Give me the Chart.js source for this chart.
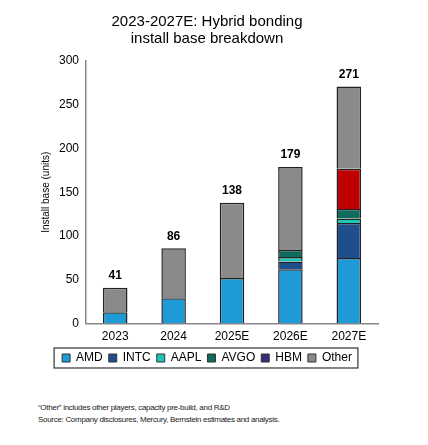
<!DOCTYPE html>
<html><head><script src="https://cdn.jsdelivr.net/npm/chart.js"></script>
<style>body{margin:0;background:#fff;font-family:Arial,"Liberation Sans",sans-serif}
#w{position:relative;width:428px;height:445px}
.n{position:absolute;left:38px;font-size:8px;color:#222;letter-spacing:-0.3px}
</style></head><body><div id="w"><canvas id="c" width="428" height="378"></canvas>
<div class="n" style="top:403px">“Other” includes other players, capacity pre-build, and R&amp;D</div>
<div class="n" style="top:415px">Source: Company disclosures, Mercury, Bernstein estimates and analysis.</div></div>
<script>
const categories=["2023","2024","2025E","2026E","2027E"];
const AMD=[13,29,52,62,75];
const INTC=[0,0,0,9,40];
const AAPL=[0,0,0,5,5];
const AVGO=[0,0,0,8,11];
const HBM=[0,0,0,0,46];
const Other=[28,57,86,95,94];
const totals=[41,86,138,179,271];
const yTicks=[0,50,100,150,200,250,300];
const ds=(l,d,c)=>({label:l,data:d,backgroundColor:c,borderColor:'#222',borderWidth:1.5,barPercentage:0.42,categoryPercentage:1});
const legendCols={AMD:'#1e9ad6',INTC:'#1f4e8c',AAPL:'#1cc6b8',AVGO:'#0f6b5e',HBM:'#3a2a7a',Other:'#8a8a8a'};
const topLabels={id:'tl',afterDatasetsDraw(ch){const x=ch.ctx;x.save();x.font='bold 12px Arial';x.fillStyle='#000';x.textAlign='center';
 const m=ch.getDatasetMeta(0);totals.forEach((t,i)=>{x.fillText(t,m.data[i].x,ch.scales.y.getPixelForValue(t)-12);});
 const L=ch.legend,h=L.legendHitBoxes;const l=h[0].left-8,r=h[h.length-1].left+h[h.length-1].width+6;
 x.strokeStyle='#333';x.lineWidth=1.2;x.strokeRect(l,h[0].top-4,r-l,h[0].height+8);x.restore();}};
new Chart(document.getElementById('c'),{type:'bar',data:{labels:categories,datasets:[
 ds('AMD',AMD,'#1e9ad6'),ds('INTC',INTC,'#1f4e8c'),ds('AAPL',AAPL,'#1cc6b8'),ds('AVGO',AVGO,'#0f6b5e'),ds('HBM',HBM,'#c00000'),ds('Other',Other,'#8a8a8a')]},
options:{responsive:false,animation:false,layout:{padding:{left:36,right:50,top:8,bottom:4}},
plugins:{title:{display:true,text:['2023-2027E: Hybrid bonding','install base breakdown'],font:{size:15,weight:'normal',family:'Arial',lineHeight:1.1},color:'#000',padding:{top:6,bottom:14}},
legend:{position:'bottom',labels:{boxWidth:8,boxHeight:8,padding:6,color:'#000',font:{size:12,family:'Arial'},
 generateLabels:ch=>ch.data.datasets.map((d,i)=>({text:d.label,fillStyle:legendCols[d.label],strokeStyle:'#333',lineWidth:1,datasetIndex:i}))}},tooltip:{enabled:false}},
scales:{x:{stacked:true,grid:{display:false,tickLength:4},border:{color:'#888',width:1.5},ticks:{color:'#000',font:{size:12,family:'Arial'},padding:2}},
y:{stacked:true,min:0,max:300,afterBuildTicks:a=>{a.ticks=yTicks.map(v=>({value:v}));},grid:{display:false,tickLength:4},border:{color:'#888',width:1.5},
 ticks:{color:'#000',font:{size:12,family:'Arial'}},title:{display:true,text:'Install base (units)',font:{size:10,family:'Arial'},color:'#000'}}}},
plugins:[topLabels]});
</script></body></html>
